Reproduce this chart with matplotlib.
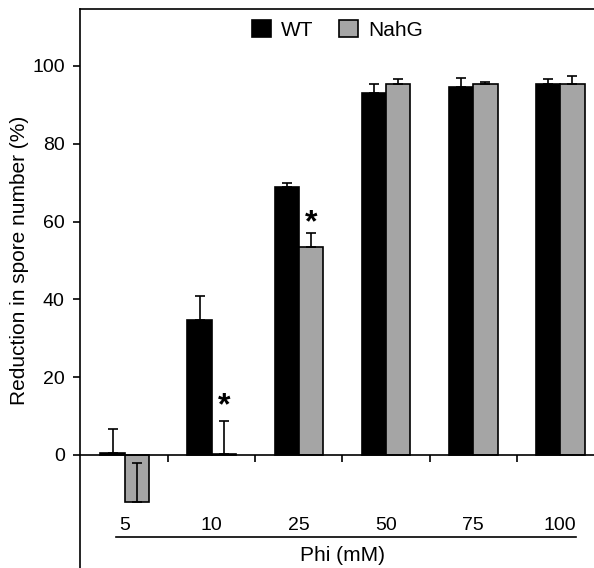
import matplotlib
matplotlib.use('Agg')
import matplotlib.pyplot as plt
import numpy as np

plt.rcParams['font.family'] = ['Liberation Sans', 'DejaVu Sans']

# concentraciones de Phi (mM)
dosis = ['5', '10', '25', '50', '75', '100']

# reduccion en numero de esporas (%)
wt = [0.4, 34.8, 69.0, 93.1, 94.5, 95.4]
wt_err = [6.4, 6.1, 0.9, 2.2, 2.5, 1.3]
nahg = [-12.2, 0.3, 53.4, 95.4, 95.4, 95.4]
nahg_err = [10.2, 8.4, 3.6, 1.2, 0.4, 2.1]

# diferencias significativas (indice, altura del asterisco)
signif = [(1, 12.5), (2, 59.5)]

fig = plt.figure(figsize=(5.94, 5.68), dpi=100)
ax = fig.add_axes([0.1347, 0.0, 0.8818, 0.9842])

x = np.arange(len(dosis))
w = 0.28
ceros = np.zeros(len(dosis))

ax.bar(x - w/2, wt, w, color='black', edgecolor='black', linewidth=1.2,
       label='WT', zorder=2)
ax.bar(x + w/2, nahg, w, color='#a5a5a5', edgecolor='black', linewidth=1.2,
       label='NahG', zorder=2)
ax.errorbar(x - w/2, wt, yerr=[ceros, wt_err], fmt='none', ecolor='black',
            elinewidth=1.2, capsize=3.5, capthick=1.2, zorder=3)
ax.errorbar(x + w/2, nahg, yerr=[ceros, nahg_err], fmt='none', ecolor='black',
            elinewidth=1.2, capsize=3.5, capthick=1.2, zorder=3)

for i, h in signif:
    ax.text(x[i] + w/2, h, '*', ha='center', va='center', fontsize=23,
            fontweight='bold')

ax.set_xlim(-0.513, 5.5)
ax.set_ylim(-29.05, 114.65)

ax.spines['right'].set_visible(False)
ax.spines['bottom'].set_position(('data', 0))
for s in ['left', 'top', 'bottom']:
    ax.spines[s].set_linewidth(1.2)

ax.set_xticks(x[:-1] + 0.5)
ax.set_xticklabels([])
ax.tick_params(axis='x', direction='out', length=5, width=1.2)
ax.set_yticks([0, 20, 40, 60, 80, 100])
ax.tick_params(axis='y', direction='out', length=5, width=1.2, labelsize=14, pad=6)

# etiquetas de categoria debajo del grafico
for xi, d in zip(x, dosis):
    ax.text(xi, -18, d, ha='center', va='center', fontsize=14)
ax.plot([-0.1, 5.18], [-21.1, -21.1], color='black', lw=1.2, clip_on=False)
ax.text(2.5, -25.8, 'Phi (mM)', ha='center', va='center', fontsize=15)

ax.set_ylabel('Reduction in spore number (%)', fontsize=15)
ax.yaxis.set_label_coords(-0.097, 0.551)

ax.legend(loc='center', bbox_to_anchor=(0.568, 0.947), bbox_transform=fig.transFigure,
          ncol=2, frameon=False, fontsize=15, handlelength=0.9, handleheight=0.9,
          handletextpad=0.5, columnspacing=1.2, borderpad=0)

fig.savefig('out.png', dpi=100)
